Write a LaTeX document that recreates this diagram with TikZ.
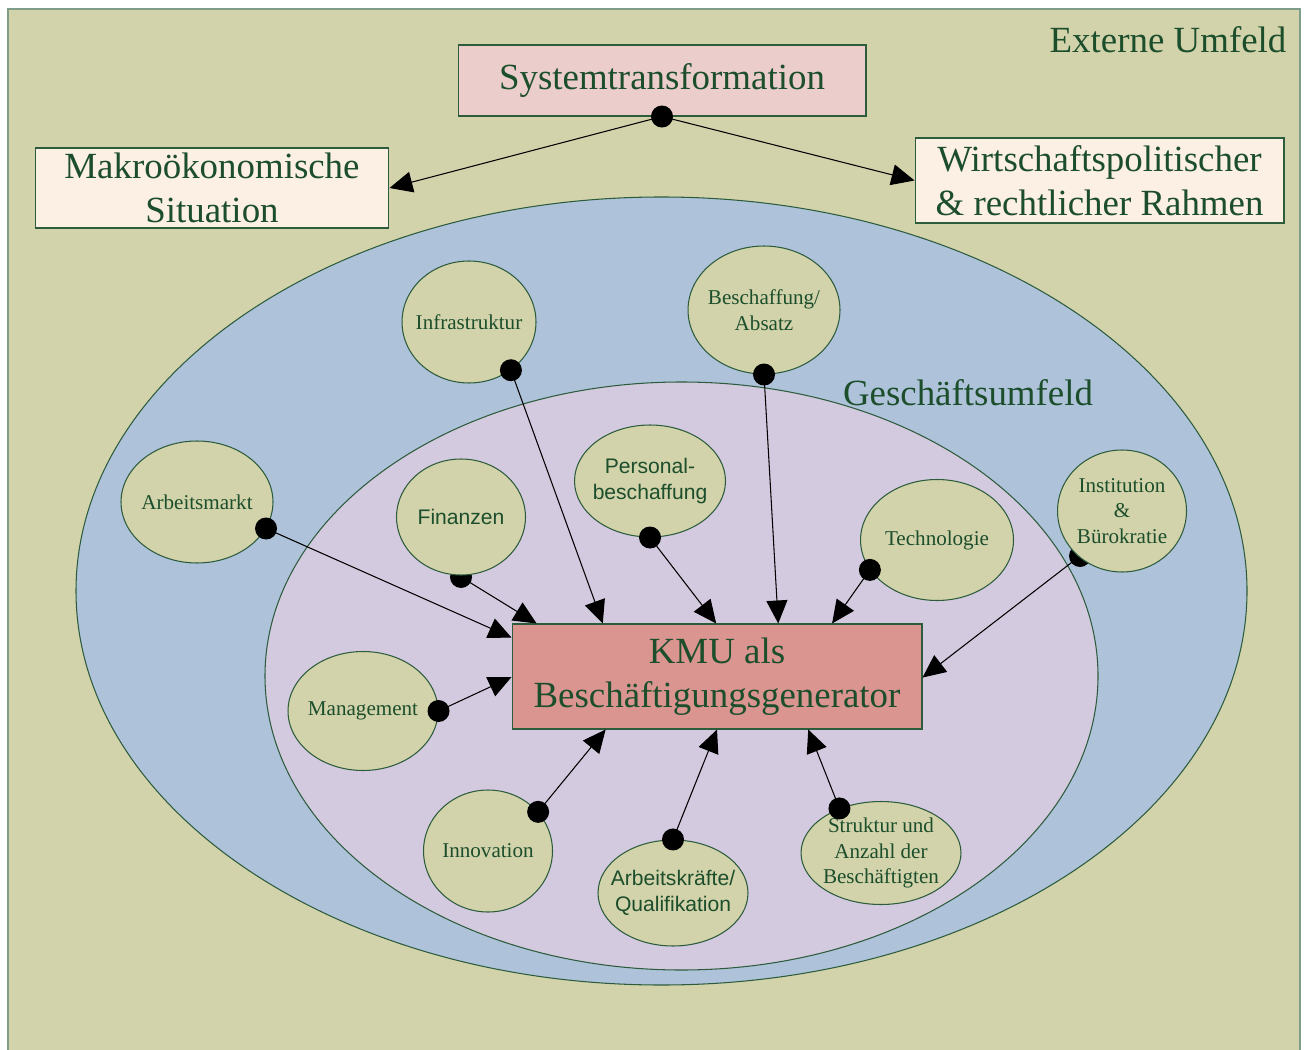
\documentclass[tikz,border=0pt]{standalone}
\usepackage{fontspec}
\setmainfont{Liberation Serif}
\setsansfont{Liberation Sans}
\usetikzlibrary{arrows.meta,shapes.geometric,calc}

\definecolor{umfeld}{RGB}{210,211,171}
\definecolor{gumfeld}{RGB}{174,194,218}
\definecolor{innen}{RGB}{212,202,223}
\definecolor{faktor}{RGB}{210,211,170}
\definecolor{kmurot}{RGB}{218,149,144}
\definecolor{sysrot}{RGB}{235,205,203}
\definecolor{rahmen}{RGB}{252,239,228}
\definecolor{schrift}{RGB}{28,78,44}
\definecolor{kante}{RGB}{44,92,60}

\tikzset{
  big/.style={font=\fontsize{21}{25}\selectfont, text=schrift, align=center},
  kasten/.style={big, draw=kante, line width=0.6pt, inner sep=0pt},
  faktor/.style={ellipse, draw=kante, fill=faktor, line width=0.6pt, inner xsep=-8pt, inner ysep=0pt,
    text=schrift, align=center, font=\fontsize{12}{14.5}\selectfont},
  sfaktor/.style={faktor, font=\sffamily\fontsize{12}{14.5}\selectfont},
  link/.style={-{Triangle[length=0.46cm,width=0.42cm]}, line width=0.6pt, black},
}

\begin{document}
\begin{tikzpicture}[x=0.02cm,y=-0.02cm]
  \useasboundingbox (0,0) rectangle (1307,1050);
  \filldraw[fill=umfeld, draw=kante!60, line width=1.2pt] (8,9) rectangle (1300,1070);
  \node[big] (extern) at (1168,40) {Externe Umfeld};

  \filldraw[fill=gumfeld, draw=kante, line width=0.6pt] (661.5,591) ellipse [x radius=585.5, y radius=394];
  \filldraw[fill=innen, draw=kante, line width=0.6pt] (681.5,676) ellipse [x radius=416.5, y radius=294];
  \node[big] (gesch) at (968,393) {Geschäftsumfeld};

  \node[kasten, fill=sysrot, minimum width=8.16cm, minimum height=1.42cm] (sys) at (662,80.5) {Systemtransformation};
  \node[kasten, fill=rahmen, minimum width=7.08cm, minimum height=1.6cm] (makro) at (212,188) {Makroökonomische\\Situation};
  \node[kasten, fill=rahmen, minimum width=7.38cm, minimum height=1.7cm] (wirt) at (1099.5,180.5) {Wirtschaftspolitischer\\\& rechtlicher Rahmen};
  \node[kasten, fill=kmurot, minimum width=8.2cm, minimum height=2.1cm] (kmu) at (717,676.5) {KMU als\\Beschäftigungsgenerator};

  \draw[link] (sys.south) -- (makro.east);
  \draw[link] (sys.south) -- (wirt.west);
  \fill (sys.south) circle [radius=11];

  \draw[link] (461,577) -- ($(kmu.north west)!0.061!(kmu.north east)$);
  \fill (461,577) circle [radius=11];
  \node[sfaktor, minimum width=2.58cm, minimum height=2.32cm] (fin) at (461,517) {Finanzen};

  \draw[link] (1080,556) -- ($(kmu.north east)!0.51!(kmu.south east)$);
  \fill (1080,556) circle [radius=11];
  \node[faktor, minimum width=2.58cm, minimum height=2.44cm] (inst) at (1122,511) {Institution\\\&\\Bürokratie};

  \node[faktor, minimum width=2.68cm, minimum height=2.44cm] (infra) at (469,322) {Infrastruktur};
  \node[faktor, minimum width=3.04cm, minimum height=2.56cm] (besch) at (764,310) {Beschaffung/\\Absatz};
  \node[faktor, minimum width=3.04cm, minimum height=2.44cm] (arbm) at (197,502) {Arbeitsmarkt};
  \node[sfaktor, minimum width=3.02cm, minimum height=2.24cm] (pers) at (650,481) {Personal-\\beschaffung};
  \node[faktor, minimum width=3.06cm, minimum height=2.42cm] (tech) at (937,540) {Technologie};
  \node[faktor, minimum width=3.0cm, minimum height=2.38cm] (mgmt) at (363,711) {Management};
  \node[faktor, minimum width=2.58cm, minimum height=2.44cm] (innov) at (488,851) {Innovation};
  \node[sfaktor, minimum width=3.0cm, minimum height=2.12cm] (arbk) at (673,893) {Arbeitskräfte/\\Qualifikation};
  \node[faktor, minimum width=3.2cm, minimum height=2.06cm] (strukt) at (881,853) {Struktur und\\Anzahl der\\Beschäftigten};

  \draw[link] (infra.-49.5) -- ($(kmu.north west)!0.222!(kmu.north east)$);
  \fill (infra.-49.5) circle [radius=11];
  \draw[link] (besch.south) -- ($(kmu.north west)!0.649!(kmu.north east)$);
  \fill (besch.south) circle [radius=11];
  \draw[link] (arbm.-21) -- ($(kmu.north west)!0.133!(kmu.south west)$);
  \fill (arbm.-21) circle [radius=11];
  \draw[link] (pers.south) -- ($(kmu.north west)!0.498!(kmu.north east)$);
  \fill (pers.south) circle [radius=11];
  \draw[link] (tech.204) -- ($(kmu.north west)!0.78!(kmu.north east)$);
  \fill (tech.204) circle [radius=11];
  \draw[link] (mgmt.east) -- ($(kmu.north west)!0.505!(kmu.south west)$);
  \fill (mgmt.east) circle [radius=11];
  \draw[link] (innov.38) -- ($(kmu.south west)!0.229!(kmu.south east)$);
  \fill (innov.38) circle [radius=11];
  \draw[link] (arbk.north) -- ($(kmu.south west)!0.5!(kmu.south east)$);
  \fill (arbk.north) circle [radius=11];
  \draw[link] (strukt.133) -- ($(kmu.south west)!0.722!(kmu.south east)$);
  \fill (strukt.133) circle [radius=11];
\end{tikzpicture}
\end{document}
